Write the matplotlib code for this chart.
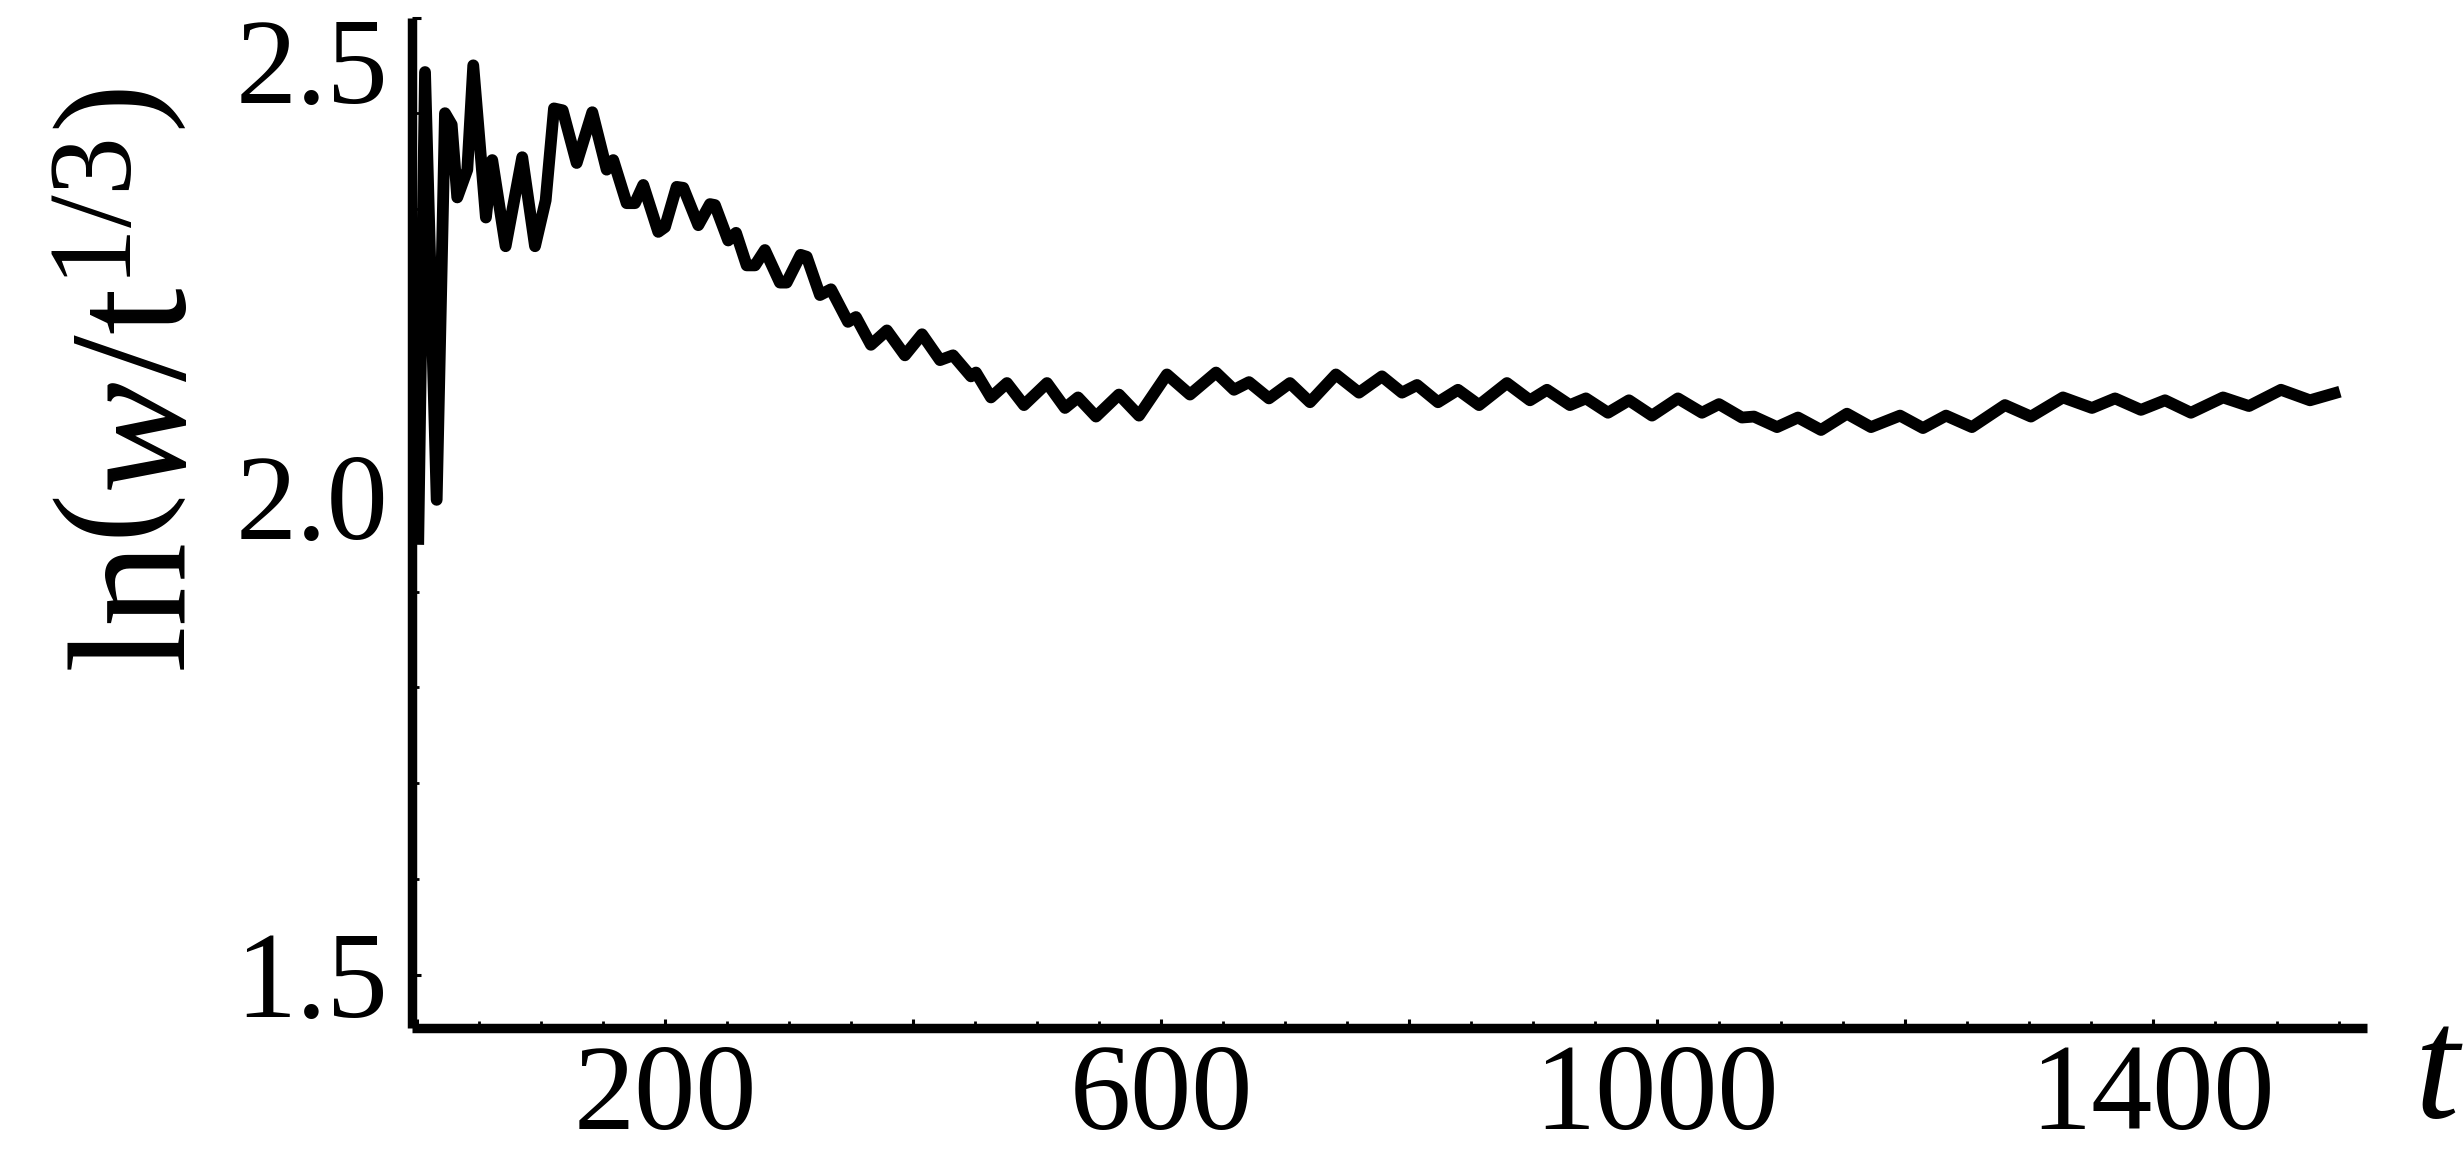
import matplotlib
matplotlib.use("Agg")
import matplotlib.pyplot as plt
from matplotlib.ticker import MultipleLocator, FixedLocator, FixedFormatter

plt.rcParams['font.family'] = ['Liberation Serif', 'DejaVu Serif']
plt.rcParams['mathtext.fontset'] = 'custom'
plt.rcParams['mathtext.rm'] = 'Liberation Serif'
plt.rcParams['mathtext.it'] = 'Liberation Serif:italic'

# ---- data ----
t = [1, 6.5, 15.9, 22.6, 28.0, 32.5, 40.6, 45.4, 55.6, 60.7, 71.5, 84.9, 95.2, 103.8,
     110.5, 117.5, 128.8, 141.4, 153.0, 158.3, 169.1, 175.8, 182.5, 194.6, 200.0,
     209.4, 214.8, 226.9, 236.3, 240.3, 251.0, 257.3, 265.9, 272.6, 280.6, 292.7,
     298.1, 309.4, 314.3, 325.0, 333.9, 347.6, 354.0, 366.1, 379.0, 393.5, 407.3,
     421.8, 432.3, 446.8, 450.8, 462.9, 475.8, 489.5, 508.1, 522.6, 533.1, 547.6,
     566.1, 582.3, 604.8, 623.4, 644.4, 658.9, 671.0, 687.1, 704.0, 720.2, 741.1,
     759.7, 778.2, 794.4, 806.5, 823.4, 839.5, 856.5, 879.0, 897.6, 911.3, 929.8,
     942.7, 960.5, 977.4, 996.0, 1016.9, 1036.3, 1050.0, 1068.5, 1078.2, 1096.8,
     1113.7, 1132.3, 1153.2, 1172.6, 1196.0, 1214.5, 1233.1, 1254.0, 1280.6, 1301.6,
     1327.4, 1350.8, 1369.4, 1390.3, 1409.7, 1430.6, 1456.5, 1477.4, 1503.2, 1526.6,
     1550.8]
lnw = [1.949, 2.443, 1.996, 2.400, 2.388, 2.312, 2.341, 2.450, 2.291, 2.351, 2.261,
       2.354, 2.261, 2.309, 2.405, 2.403, 2.348, 2.401, 2.341, 2.351, 2.306, 2.306,
       2.325, 2.276, 2.281, 2.323, 2.322, 2.283, 2.305, 2.304, 2.267, 2.275, 2.241,
       2.241, 2.257, 2.223, 2.223, 2.252, 2.250, 2.210, 2.216, 2.182, 2.187, 2.158,
       2.173, 2.147, 2.169, 2.142, 2.147, 2.125, 2.129, 2.103, 2.118, 2.095, 2.118,
       2.092, 2.103, 2.083, 2.106, 2.084, 2.127, 2.106, 2.129, 2.111, 2.119, 2.102,
       2.118, 2.098, 2.127, 2.108, 2.125, 2.108, 2.116, 2.098, 2.111, 2.095, 2.118,
       2.100, 2.111, 2.095, 2.102, 2.087, 2.100, 2.084, 2.102, 2.087, 2.096, 2.082,
       2.083, 2.072, 2.082, 2.069, 2.086, 2.072, 2.084, 2.071, 2.084, 2.072, 2.095,
       2.083, 2.103, 2.092, 2.102, 2.090, 2.100, 2.087, 2.103, 2.094, 2.111, 2.100,
       2.109]

x_major = [0, 200, 400, 600, 800, 1000, 1200, 1400]
x_labels = ['', '200', '', '600', '', '1000', '', '1400']
y_major = [1.5, 2.0, 2.5]
y_labels = ['1.5', '2.0', '2.5']

# ---- figure ----
W, H = 2464, 1175
fig = plt.figure(figsize=(W / 100, H / 100), dpi=100)
ax = fig.add_axes([412 / W, 1 - 1028 / H, (2367 - 412) / W, (1028 - 17.5) / H])

ax.plot(t, lnw, color='black', lw=8.5, solid_joinstyle='round', solid_capstyle='butt',
        clip_on=False)

ax.set_xlim(-4.0, 1572.6)
ax.set_ylim(1.4441, 2.5)

for s in ['top', 'right']:
    ax.spines[s].set_visible(False)
for s in ['left', 'bottom']:
    ax.spines[s].set_linewidth(6.8)
    ax.spines[s].set_capstyle('butt')

ax.xaxis.set_major_locator(FixedLocator(x_major))
ax.xaxis.set_major_formatter(FixedFormatter(x_labels))
ax.xaxis.set_minor_locator(MultipleLocator(50))
ax.yaxis.set_major_locator(FixedLocator(y_major))
ax.yaxis.set_major_formatter(FixedFormatter(y_labels))
ax.yaxis.set_minor_locator(MultipleLocator(0.1))

ax.tick_params(axis='both', which='major', direction='in', length=6.7, width=2.2,
               labelsize=88)
ax.tick_params(axis='both', which='minor', direction='in', length=5.0, width=2.0)
ax.tick_params(axis='x', which='major', pad=11)
ax.tick_params(axis='y', which='major', pad=17)

# top y label kept inside the picture
for lab in ax.get_yticklabels():
    if lab.get_text() == '2.5':
        lab.set_verticalalignment('top')

fig.text(186 / W, 1 - 381 / H, r'$\mathrm{ln}\left(w/\mathrm{t}^{1/3}\right)$',
         rotation=90, rotation_mode='anchor', ha='center', va='baseline',
         fontsize=121)
fig.text(2439 / W, 1 - 1078 / H, r'$t$', ha='center', va='center', fontsize=115)

fig.savefig('out.png', dpi=100)
